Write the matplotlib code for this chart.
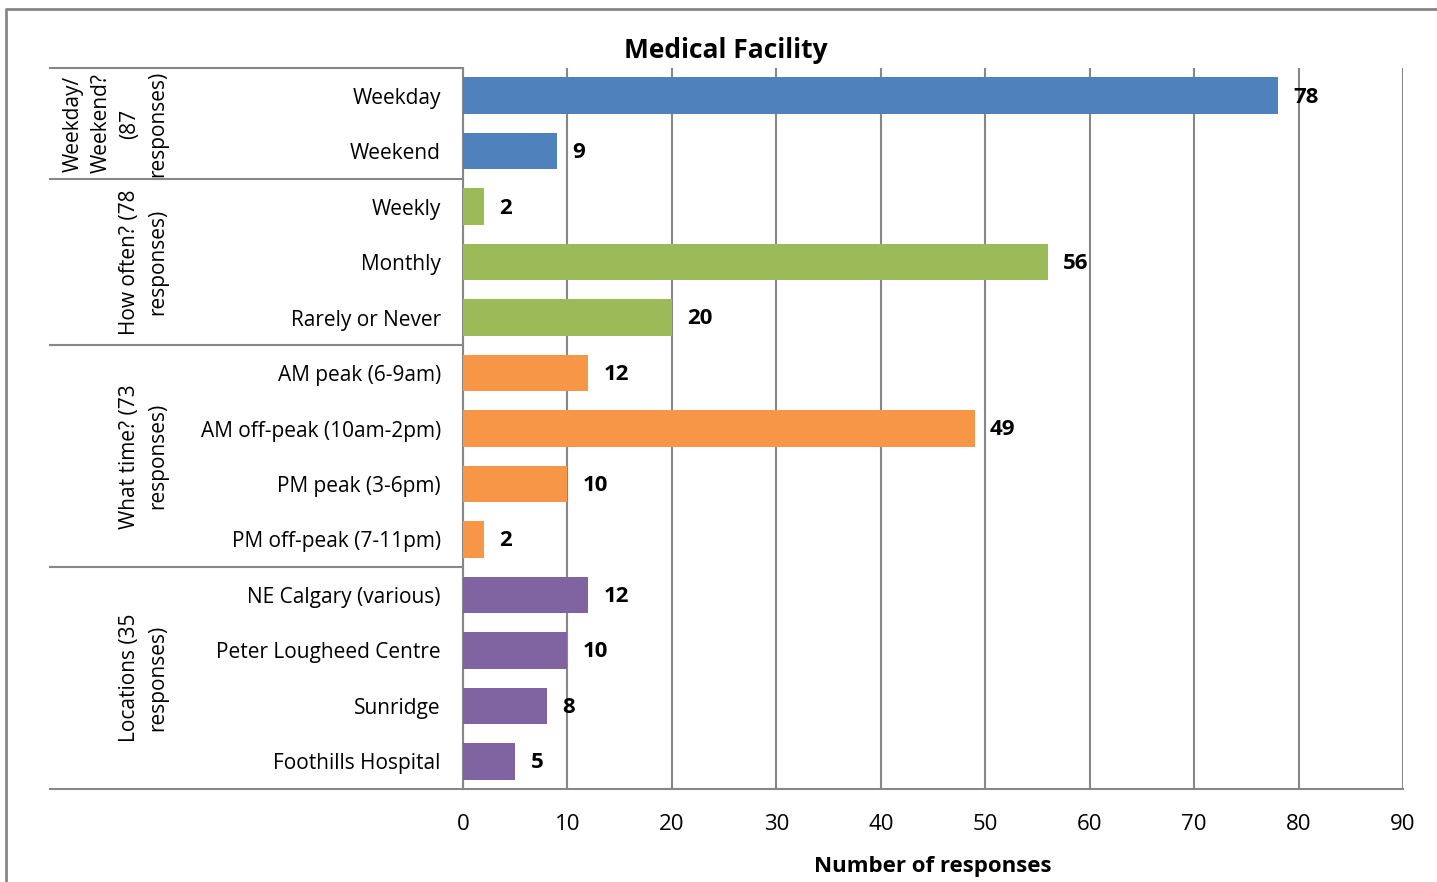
import matplotlib.pyplot as plt
from matplotlib.lines import Line2D
from matplotlib.transforms import blended_transform_factory

plt.rcParams['font.family'] = ['Open Sans', 'DejaVu Sans']

# data
groups = ['Weekday/\nWeekend?\n(87\nresponses)', 'How often? (78\nresponses)',
          'What time? (73\nresponses)', 'Locations (35\nresponses)']
weekday_cats = ['Weekday', 'Weekend']
weekday_vals = [78, 9]
often_cats = ['Weekly', 'Monthly', 'Rarely or Never']
often_vals = [2, 56, 20]
time_cats = ['AM peak (6-9am)', 'AM off-peak (10am-2pm)', 'PM peak (3-6pm)', 'PM off-peak (7-11pm)']
time_vals = [12, 49, 10, 2]
loc_cats = ['NE Calgary (various)', 'Peter Lougheed Centre', 'Sunridge', 'Foothills Hospital']
loc_vals = [12, 10, 8, 5]
colors = ['#4F81BD', '#9BBB59', '#F79646', '#8064A2']
xticks = [0, 10, 20, 30, 40, 50, 60, 70, 80, 90]

W, H = 1437, 882
fig = plt.figure(figsize=(W / 100, H / 100), dpi=100)
ax = fig.add_axes([463 / W, (H - 789) / H, 940 / W, 721 / H])

grey = '#878787'
all_cats = [weekday_cats, often_cats, time_cats, loc_cats]
all_vals = [weekday_vals, often_vals, time_vals, loc_vals]

labels = []
pos = 0
bounds = [-0.5]
trans = blended_transform_factory(ax.transAxes, ax.transData)
for g, cats, vals, c in zip(groups, all_cats, all_vals, colors):
    ys = list(range(pos, pos + len(cats)))
    ax.barh(ys, vals, height=0.66, color=c, zorder=3)
    for y, v in zip(ys, vals):
        ax.annotate(str(v), (v, y), xytext=(11, -1), textcoords='offset points',
                    va='center', ha='left', fontsize=16, fontweight='bold', zorder=4)
    labels += cats
    pos += len(cats)
    bounds.append(pos - 0.5)
    mid = (ys[0] + ys[-1]) / 2
    ax.text(-0.314, mid, g, transform=trans, rotation=90, ha='right', va='center',
            multialignment='center', fontsize=15, linespacing=1.45)

for b in bounds:
    ax.add_line(Line2D([(50 - 463) / 940, 0], [b, b], transform=trans,
                       color=grey, lw=1.5, clip_on=False))

ax.set_yticks(range(len(labels)))
ax.set_yticklabels(labels, fontsize=15)
ax.set_ylim(len(labels) - 0.5, -0.5)
ax.set_xlim(0, 90)
ax.set_xticks(xticks)
ax.tick_params(axis='x', length=0, pad=18, labelsize=16)
ax.tick_params(axis='y', length=0, pad=16)
ax.grid(axis='x', color=grey, lw=1.5)
ax.set_axisbelow(True)
for s in ['top', 'right']:
    ax.spines[s].set_visible(False)
for s in ['left', 'bottom']:
    ax.spines[s].set_color(grey)
    ax.spines[s].set_linewidth(1.5)

ax.set_xlabel('Number of responses', fontsize=16, fontweight='bold', labelpad=15)
fig.text(726 / W, 1 - 50 / H, 'Medical Facility', ha='center', va='center',
         fontsize=19, fontweight='bold')

# outer chart frame (cropped)
fig.add_artist(Line2D([6 / W, 6 / W, 1], [0, 1 - 9 / H, 1 - 9 / H],
                      transform=fig.transFigure, color=grey, lw=2))

plt.savefig('out.png', dpi=100)
